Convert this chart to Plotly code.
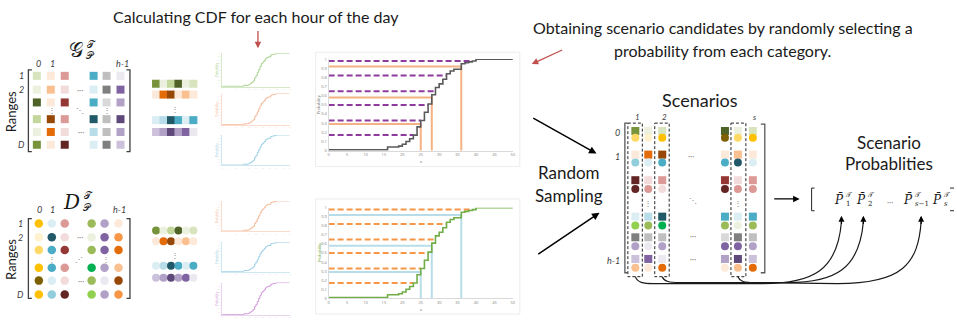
import plotly.graph_objects as go

W, H = 957, 322
SANS = "Lato, 'Open Sans', sans-serif"
SERIF = "'DejaVu Serif', 'Liberation Serif', serif"

# ---------------- data ----------------
# empirical CDF of one hour (step function, value on the right of each x)
cdf_x = [0, 16, 19, 20, 21, 22, 23, 24, 25, 26, 27, 28, 29, 30, 31, 32, 33, 34, 36, 37, 38, 39, 40, 50]
cdf_p = [0.01, 0.04, 0.05, 0.07, 0.10, 0.13, 0.17, 0.26, 0.33, 0.42, 0.51, 0.61, 0.69, 0.73,
         0.78, 0.84, 0.87, 0.89, 0.95, 0.96, 0.97, 0.98, 1.00, 1.00]
category_levels = [0.17, 0.33, 0.50, 0.65, 0.82, 0.98]   # dashed category boundaries
sampled_levels = [0.29, 0.58, 0.92]                       # randomly selected probabilities
x_ticks = [0, 5, 10, 15, 20, 25, 30, 35, 40, 45, 50]
p_ticks = [0, 0.1, 0.2, 0.3, 0.4, 0.5, 0.6, 0.7, 0.8, 0.9, 1]
p_ticktext = ["0", "0.1", "0.2", "0.3", "0.4", "0.5", "0.6", "0.7", "0.8", "0.9", "1"]

G_colors = [
    ["#d7e4bd", "#fde9d9", "#dc9a96", "#4bacc6", "#bfbfbf", "#ebe8f0"],
    ["#ebf1de", "#fac090", "#f2dcdb", "#dbeef4", "#7f7f7f", "#8064a2"],
    ["#4f6228", "#fde9d9", "#953734", "#4bacc6", "#d9d9d9", "#b2a1c7"],
    ["#c3d69b", "#974806", "#dc9a96", "#215968", "#bfbfbf", "#5f497a"],
    ["#ebf1de", "#e36c09", "#f2dcdb", "#b7dde8", "#bfbfbf", "#b2a1c7"],
    ["#77933c", "#fde9d9", "#632523", "#dbeef4", "#7f7f7f", "#ccc1da"],
]
D_colors = [
    ["#ffc000", "#dbeef4", "#dc9a96", "#9bbb59", "#b2a1c7", "#fde9d9"],
    ["#fff2cc", "#215968", "#f2dcdb", "#ebf1de", "#8064a2", "#f79646"],
    ["#ffd966", "#4bacc6", "#953734", "#9bbb59", "#8064a2", "#e36c09"],
    ["#ffc000", "#4bacc6", "#dc9a96", "#00b050", "#b2a1c7", "#fac090"],
    ["#7f6000", "#dbeef4", "#f2dcdb", "#9bbb59", "#ebe8f0", "#974806"],
    ["#ffc000", "#92cddc", "#632523", "#92d050", "#b2a1c7", "#f79646"],
]
strip_colors = [
    ["#77933c", "#ebf1de", "#c3d69b", "#4f6228", "#ebf1de", "#d7e4bd"],
    ["#fde9d9", "#e36c09", "#974806", "#fde9d9", "#fac090", "#fde9d9"],
    ["#dbeef4", "#b7dde8", "#215968", "#4bacc6", "#dbeef4", "#4bacc6"],
    ["#ccc1da", "#b2a1c7", "#5f497a", "#b2a1c7", "#8064a2", "#ebe8f0"],
]
# scenarios: one list per scenario column (rows 0..h-1)
scen_sq = [
    ["#77933c", "#fde9d9", "#632523", "#dbeef4", "#7f7f7f", "#ccc1da"],
    ["#ebf1de", "#e36c09", "#f2dcdb", "#b7dde8", "#bfbfbf", "#8064a2"],
    ["#d7e4bd", "#974806", "#dc9a96", "#215968", "#bfbfbf", "#ebe8f0"],
    ["#4f6228", "#fde9d9", "#953734", "#4bacc6", "#d9d9d9", "#b2a1c7"],
    ["#ebf1de", "#fac090", "#f2dcdb", "#dbeef4", "#7f7f7f", "#5f497a"],
    ["#d7e4bd", "#fde9d9", "#dc9a96", "#4bacc6", "#bfbfbf", "#ccc1da"],
]
scen_ci = [
    ["#ffd966", "#92cddc", "#632523", "#92d050", "#b2a1c7", "#fac090"],
    ["#fff2cc", "#dbeef4", "#dc9a96", "#9bbb59", "#ebe8f0", "#fde9d9"],
    ["#ffc000", "#4bacc6", "#f2dcdb", "#00b050", "#b2a1c7", "#e36c09"],
    ["#7f6000", "#4bacc6", "#632523", "#9bbb59", "#8064a2", "#fde9d9"],
    ["#ffd966", "#215968", "#dc9a96", "#ebf1de", "#8064a2", "#fac090"],
    ["#ffc000", "#dbeef4", "#dc9a96", "#9bbb59", "#b2a1c7", "#e36c09"],
]
matrix_col_labels = ["0", "1", "h-1"]
matrix_row_labels = ["1", "2", "D"]
scen_col_labels = ["1", "2", "s"]
scen_row_labels = ["0", "1", "h-1"]

# ---------------- layout geometry (pixels) ----------------
G_col_x = [36, 50, 64, 93, 106, 120]
G_row_y = [74, 88, 101, 118, 131, 144]
D_col_x = [38, 51, 64, 91, 104, 118]
D_row_y = [224, 238, 251, 269, 282, 296]
strip_x = [155.7, 163.2, 170.7, 178.2, 185.7, 193.2]
G_strip_y = [82, 93, 119, 131]
D_strip_y = [231, 242, 267, 279]
S_col_x = [637, 650, 664, 727, 740, 755]
S_sq_y = [130, 154, 180, 217, 238, 260]
S_ci_y = [137, 162, 189, 226, 247, 269]

fig = go.Figure()
ann = []
shapes = []


def txt(x, y, s, size=15, color="#1a1a1a", family=SANS, angle=0, xanchor="center", yanchor="middle"):
    ann.append(dict(x=x, y=y, xref="x", yref="y", text=s, showarrow=False,
                    font=dict(size=size, color=color, family=family), textangle=angle,
                    xanchor=xanchor, yanchor=yanchor))


def arrow(x0, y0, x1, y1, color="#000000", width=1.3, head=2, size=1.0):
    ann.append(dict(x=x1, y=y1, ax=x0, ay=y0, xref="x", yref="y", axref="x", ayref="y",
                    showarrow=True, arrowhead=head, arrowsize=size, arrowwidth=width,
                    arrowcolor=color, text=""))


def path(d, color="#404040", width=1.3, dash=None):
    ln = dict(color=color, width=width)
    if dash:
        ln["dash"] = dash
    shapes.append(dict(type="path", path=d, xref="x", yref="y", line=ln, layer="above"))


def rect(x0, y0, x1, y1, color="#000", width=1, dash=None):
    ln = dict(color=color, width=width)
    if dash:
        ln["dash"] = dash
    shapes.append(dict(type="rect", x0=x0, y0=y0, x1=x1, y1=y1, xref="x", yref="y", line=ln, layer="below"))


def markers(xs, ys, colors, symbol, size):
    fig.add_trace(go.Scatter(x=xs, y=ys, mode="markers", xaxis="x", yaxis="y",
                             marker=dict(symbol=symbol, size=size, color=colors, line=dict(width=0)),
                             hoverinfo="skip", showlegend=False))


def symbol_text(x, y, base, sup, sub, size=20, family=SERIF, dx=9):
    txt(x, y, base, size=size, family=family)
    txt(x + dx, y - size * 0.3, sup, size=size * 0.5, family=family, xanchor="left")
    txt(x + dx - 1, y + size * 0.28, sub, size=size * 0.5, family=family, xanchor="left")


# ---------- matrix G (squares) ----------
xs, ys, cs = [], [], []
for r, row in enumerate(G_colors):
    for c, col in enumerate(row):
        xs.append(G_col_x[c]); ys.append(G_row_y[r]); cs.append(col)
markers(xs, ys, cs, "square", 8)
# ---------- matrix D (circles) ----------
xs, ys, cs = [], [], []
for r, row in enumerate(D_colors):
    for c, col in enumerate(row):
        xs.append(D_col_x[c]); ys.append(D_row_y[r]); cs.append(col)
markers(xs, ys, cs, "circle", 8.5)
# ---------- strips ----------
xs, ys, cs = [], [], []
for r, row in enumerate(strip_colors):
    for c, col in enumerate(row):
        xs.append(strip_x[c]); ys.append(G_strip_y[r]); cs.append(col)
markers(xs, ys, cs, "square", 8)
xs, ys, cs = [], [], []
for r, row in enumerate(strip_colors):
    for c, col in enumerate(row):
        xs.append(strip_x[c]); ys.append(D_strip_y[r]); cs.append(col)
markers(xs, ys, cs, "circle", 8)
# ---------- scenarios ----------
xs, ys, cs = [], [], []
for c, colcol in enumerate(scen_sq):
    for r, col in enumerate(colcol):
        xs.append(S_col_x[c]); ys.append(S_sq_y[r]); cs.append(col)
markers(xs, ys, cs, "square", 8)
xs, ys, cs = [], [], []
for c, colcol in enumerate(scen_ci):
    for r, col in enumerate(colcol):
        xs.append(S_col_x[c]); ys.append(S_ci_y[r]); cs.append(col)
markers(xs, ys, cs, "circle", 8)

# ---------- brackets ----------
path("M 31 68 L 27.5 68 L 27.5 151 L 31 151")
path("M 126 68 L 129.5 68 L 129.5 151 L 126 151")
path("M 31 219 L 27.5 219 L 27.5 300 L 31 300")
path("M 126 219 L 129.5 219 L 129.5 300 L 126 300")
path("M 629.5 122 L 626.5 122 L 626.5 274 L 629.5 274", color="#595959")
path("M 763 123 L 767 123 L 767 274 L 763 274", color="#595959")
path("M 817 188 L 814 188 L 814 211 L 817 211", color="#262626", width=1)
path("M 953 188 L 958 188", color="#262626", width=1)
path("M 953 211 L 958 211", color="#262626", width=1)

# dashed scenario boxes
rect(629.5, 122, 644, 278, color="#262626", width=1, dash="3px,2px")
rect(656.5, 122, 671, 278, color="#262626", width=1, dash="3px,2px")
rect(733, 122, 748, 278, color="#262626", width=1, dash="3px,2px")

# curves from selected scenarios to probabilities
path("M 637 278 C 639 284, 645 285, 655 285 L 765 285 C 815 285, 840 272, 844 222", color="#1a1a1a", width=1.2)
path("M 664 278 C 666 283, 671 284, 681 284 L 790 284 C 838 284, 862 270, 866 222", color="#1a1a1a", width=1.2)
path("M 740 278 C 742 283, 746 284, 757 284 L 840 285 C 905 285, 921 265, 924 222", color="#1a1a1a", width=1.2)
arrow(844, 226, 844, 216, width=1.2)
arrow(866, 226, 866, 216, width=1.2)
arrow(924, 226, 924, 216, width=1.2)

# frames around the large CDF plots
rect(316, 50, 521, 166, color="#ececec", width=1)
rect(316, 199, 521, 316, color="#ececec", width=1)

# ---------- text ----------
txt(256, 14, "Calculating CDF for each hour of the day", size=16)
txt(725, 25, "Obtaining scenario candidates by randomly selecting a", size=16)
txt(725, 48, "probability from each category.", size=16)
txt(702, 99, "Scenarios", size=18)
txt(570, 172, "Random", size=17)
txt(570, 196, "Sampling", size=17)
txt(892, 142, "Scenario", size=17)
txt(892, 163, "Probablities", size=17)

GC, PC, TC = "\U0001D4A2", "\U0001D4AB", "\U0001D4AF"
symbol_text(75, 48, GC, TC, PC, size=20, dx=9)
symbol_text(71, 202, "<i>D</i>", TC, PC, size=20, dx=10)

for lab, ci in zip(matrix_col_labels, [0, 1, 5]):
    txt(G_col_x[ci] + 2, 61, "<i>%s</i>" % lab, size=9, color="#404040")
    txt(D_col_x[ci] + 1, 210, "<i>%s</i>" % lab, size=9, color="#404040")
for lab, ri in zip(matrix_row_labels, [0, 1, 5]):
    txt(21, G_row_y[ri], "<i>%s</i>" % lab, size=9, color="#404040")
    txt(20, D_row_y[ri], "<i>%s</i>" % lab, size=9, color="#404040")
txt(10, 110, "Ranges", size=13, angle=-90)
txt(10, 260, "Ranges", size=13, angle=-90)

for lab, ci in zip(scen_col_labels, [0, 2, 5]):
    txt(S_col_x[ci] + 2, 116, "<i>%s</i>" % lab, size=8, color="#404040")
for lab, ri in zip(scen_row_labels, [0, 1, 5]):
    txt(619 if lab != "h-1" else 615, S_sq_y[ri] + 2, "<i>%s</i>" % lab, size=9, color="#404040")

# ellipses
DOT = "#7f7f7f"
for (x, y) in [(79, 88), (80, 131), (79, 238), (80, 282), (693, 155), (695, 237), (695, 260), (893, 202)]:
    txt(x, y, "···", size=8, color=DOT)
for (x, y) in [(51, 109), (106, 109), (51, 260), (105, 260), (175, 108), (175, 256), (650, 203), (740, 203)]:
    txt(x, y, "⋮", size=8, color=DOT)
txt(79, 109, "⋱", size=8, color=DOT)
txt(78, 260, "⋰", size=8, color=DOT)
txt(695, 200, "⋱", size=8, color=DOT)

# probability vector
PB = "<i>P\u0304</i>"
for x, sub in [(842, "1"), (864, "2"), (911, "<i>s</i>\u22121"), (940, "<i>s</i>")]:
    txt(x, 200, PB, size=12, family=SERIF)
    txt(x + 4.5, 195, TC, size=7, family=SERIF, xanchor="left")
    txt(x + 4.5, 204, sub, size=7, family=SERIF, xanchor="left")

# arrows
arrow(258, 27, 258, 46, color="#c0504d", width=1.3)
arrow(565, 47, 533, 62, color="#c0504d", width=1.3)
arrow(533, 116, 598, 153, width=1.5)
arrow(538, 256, 601, 213, width=1.5)
arrow(775, 199, 802, 199, width=1.3)

# ---------- CDF subplots ----------
def dom_x(a, b):
    return [a / W, b / W]


def dom_y(top, bottom):
    return [1 - bottom / H, 1 - top / H]


def first_x(level):
    for xv, pv in zip(cdf_x, cdf_p):
        if pv >= level:
            return xv
    return cdf_x[-1]


axes_layout = {}


def add_cdf_axes(i, xpx, ypx, axis_color, tick_color, tick_size, show_ticks=True):
    axes_layout["xaxis%d" % i] = dict(domain=dom_x(*xpx), range=[0, 50], anchor="y%d" % i,
                                      showgrid=False, zeroline=False, showline=True,
                                      linecolor=axis_color, linewidth=1, tickvals=x_ticks,
                                      showticklabels=show_ticks, ticks="",
                                      tickfont=dict(size=tick_size, color=tick_color))
    axes_layout["yaxis%d" % i] = dict(domain=dom_y(*ypx), range=[0, 1.0], anchor="x%d" % i,
                                      showgrid=False, zeroline=False, showline=True,
                                      linecolor=axis_color, linewidth=1, tickvals=p_ticks,
                                      ticktext=p_ticktext, showticklabels=show_ticks, ticks="",
                                      tickfont=dict(size=tick_size, color=tick_color))


def add_big(i, curve_color, dash_color, sample_color):
    xa, ya = "x%d" % i, "y%d" % i
    sx, sy = [], []
    for lv in sampled_levels:
        xe = first_x(lv)
        sx += [0, xe, xe, None]
        sy += [lv, lv, 0, None]
    fig.add_trace(go.Scatter(x=sx, y=sy, mode="lines", xaxis=xa, yaxis=ya,
                             line=dict(color=sample_color, width=2), hoverinfo="skip", showlegend=False))
    dx, dy = [], []
    for lv in category_levels:
        dx += [0, first_x(lv), None]
        dy += [lv, lv, None]
    fig.add_trace(go.Scatter(x=dx, y=dy, mode="lines", xaxis=xa, yaxis=ya,
                             line=dict(color=dash_color, width=2, dash="6px,3px"),
                             hoverinfo="skip", showlegend=False))
    fig.add_trace(go.Scatter(x=cdf_x, y=cdf_p, mode="lines", xaxis=xa, yaxis=ya, line_shape="hv",
                             line=dict(color=curve_color, width=1.6), hoverinfo="skip", showlegend=False))


add_cdf_axes(2, (329, 514), (57, 150), "#d9d9d9", "#7f7f7f", 4)
add_big(2, "#595959", "#8e3a9e", "#f4b183")
add_cdf_axes(3, (329, 514), (208, 300), "#d9d9d9", "#7f7f7f", 4)
add_big(3, "#70ad47", "#f79646", "#b7dee8")
txt(319, 103, "Probability", size=4, color="#7f7f7f", angle=-90)
txt(319, 253, "Probability", size=4, color="#70ad47", angle=-90)
txt(422, 161, "x", size=4, color="#7f7f7f")
txt(422, 311, "x", size=4, color="#7f7f7f")

mini_y = [(51, 85), (92, 124), (134, 165), (201, 232), (243, 273), (284, 317)]
mini_col = ["#a9d18e", "#f4b99b", "#9dcfe4", "#f4b99b", "#9dcfe4", "#cf9ad8"]
mini_axis = ["#d5e8c8", "#fadccc", "#cfe7f1", "#fadccc", "#cfe7f1", "#ead3ee"]
for k, (yp, cc, ac) in enumerate(zip(mini_y, mini_col, mini_axis)):
    i = 4 + k
    add_cdf_axes(i, (222, 290), yp, ac, ac, 2)
    fig.add_trace(go.Scatter(x=cdf_x, y=cdf_p, mode="lines", xaxis="x%d" % i, yaxis="y%d" % i,
                             line_shape="hv", line=dict(color=cc, width=1),
                             hoverinfo="skip", showlegend=False))
    txt(217, (yp[0] + yp[1]) / 2, "Probability", size=3, color=cc, angle=-90)

fig.update_layout(
    width=W, height=H, margin=dict(l=0, r=0, t=0, b=0),
    paper_bgcolor="white", plot_bgcolor="rgba(0,0,0,0)",
    xaxis=dict(domain=[0, 1], range=[0, W], visible=False, fixedrange=True),
    yaxis=dict(domain=[0, 1], range=[H, 0], visible=False, fixedrange=True),
    annotations=ann, shapes=shapes, showlegend=False,
    **axes_layout,
)
fig.write_html("out.html")
